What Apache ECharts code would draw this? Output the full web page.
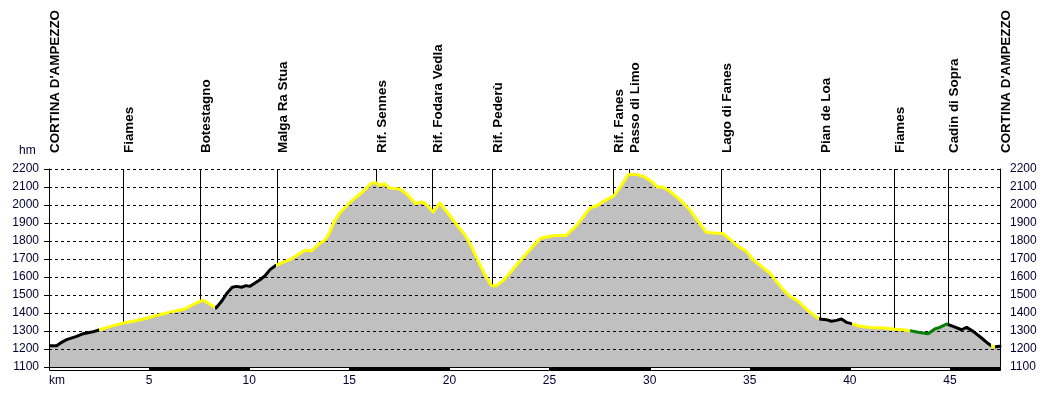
<!DOCTYPE html>
<html><head><meta charset="utf-8">
<script src="https://cdn.jsdelivr.net/npm/echarts@6/dist/echarts.min.js"></script>
<style>html,body{margin:0;padding:0;background:#fff}#c{width:1050px;height:394px}</style>
</head><body><div id="c"></div>
<script>
// ---- DATA ----
const distKm = [0.0,0.38,0.63,0.88,1.38,1.71,2.13,2.54,3.21,3.71,4.21,4.71,5.21,5.71,6.21,6.79,7.12,7.54,7.71,8.01,8.34,8.62,8.87,9.15,9.37,9.62,9.84,10.04,10.29,10.54,10.79,11.04,11.34,11.62,12.03,12.37,12.78,13.12,13.45,13.78,14.03,14.25,14.53,15.0,15.28,15.61,15.86,16.11,16.36,16.53,16.73,17.02,17.52,17.86,18.32,18.56,18.77,19.19,19.52,19.85,20.27,20.77,21.10,21.44,21.77,22.10,22.35,22.69,23.02,23.52,24.02,24.52,24.85,25.27,25.82,26.35,27.02,27.35,27.85,28.18,28.51,28.93,29.35,29.76,30.10,30.38,30.65,31.01,31.48,32.0,32.42,32.83,33.17,33.67,34.00,34.42,34.83,35.17,35.58,36.0,36.33,36.67,37.00,37.42,37.83,38.17,38.47,38.83,39.08,39.33,39.58,39.83,40.08,40.50,41.0,41.66,42.16,42.58,43.0,43.41,43.91,44.24,44.49,44.83,45.16,45.58,45.83,46.16,46.58,46.91,47.16,47.5];
const elevM = [1218,1218,1237,1252,1270,1285,1294,1307,1330,1344,1354,1367,1381,1396,1409,1422,1443,1465,1470,1450,1428,1465,1507,1543,1548,1543,1552,1548,1567,1585,1607,1641,1665,1678,1696,1719,1748,1746,1780,1804,1850,1909,1956,2010,2039,2067,2094,2122,2122,2107,2119,2094,2089,2063,2007,2017,2011,1961,2011,1965,1904,1835,1770,1687,1613,1552,1552,1581,1622,1687,1752,1813,1822,1830,1830,1885,1983,1996,2030,2048,2094,2169,2169,2156,2131,2100,2100,2076,2033,1974,1909,1848,1844,1841,1811,1770,1743,1696,1659,1622,1576,1530,1493,1465,1422,1391,1367,1363,1354,1359,1367,1348,1341,1326,1320,1317,1311,1307,1302,1293,1285,1311,1320,1339,1326,1307,1320,1298,1261,1230,1211,1215];

// trail surface segments: start km and type
const segStartKm = [0, 2.5, 8.3, 11.35, 38.47, 40.1, 43.0, 44.88, 47.05, 47.25];
const segType    = ['black','yellow','black','yellow','black','yellow','green','black','yellow','black'];

const wpNames = ["CORTINA D'AMPEZZO","Fiames","Botestagno","Malga Ra Stua","Rif. Sennes","Rif. Fodara Vedla","Rif. Pederù","Rif. Fanes","Passo di Limo","Lago di Fanes","Pian de Loa","Fiames","Cadin di Sopra","CORTINA D'AMPEZZO"];
const wpKm    = [0, 3.68, 7.55, 11.40, 16.34, 19.14, 22.13, 28.17, 28.96, 33.57, 38.51, 42.2, 44.9, 47.48];

const yMin = 1100, yMax = 2200, yStep = 100;
const xMin = 0, xMax = 47.5, xStep = 5;

// ---- BUILD ----
const colorMap = {black:'#000000', yellow:'#ffff00', green:'#008000'};
const profile = distKm.map((k,i)=>[k, elevM[i]]);
const pieces = segStartKm.map((s,i)=>({gte:s, lt: i<segStartKm.length-1 ? segStartKm[i+1] : 1000, color: colorMap[segType[i]]}));
const bands = [];
for (let k = xMin, j = 0; k < xMax; k += xStep, j++) bands.push([k, Math.min(k + xStep, xMax), j % 2]);
const labelColor = '#000033';
const font = 'Arial, "Liberation Sans", sans-serif';

const chart = echarts.init(document.getElementById('c'), null, {renderer:'canvas'});
chart.setOption({
  animation:false,
  backgroundColor:'#fff',
  grid:{left:49, right:50, top:169, bottom:27},
  xAxis:{type:'value', min:xMin, max:xMax, interval:xStep,
    axisLine:{show:false}, axisTick:{show:false}, splitLine:{show:false},
    axisLabel:{color:labelColor, fontSize:12, fontFamily:font, margin:8, showMaxLabel:false, alignMinLabel:'left',
      formatter:v=> v===0 ? 'km' : String(v)}},
  yAxis:[
    {type:'value', min:yMin, max:yMax, interval:yStep, position:'left', z:3,
      axisLine:{show:true, lineStyle:{color:'#000', width:1}},
      axisTick:{show:true, length:5, lineStyle:{color:'#000'}},
      axisLabel:{color:labelColor, fontSize:12, fontFamily:font, margin:10, formatter:v=>String(v)},
      splitLine:{show:true, lineStyle:{color:'#000', type:[3,3], width:1}}},
    {type:'value', min:yMin, max:yMax, interval:yStep, position:'right', z:3,
      axisLine:{show:true, lineStyle:{color:'#000', width:1}},
      axisTick:{show:false},
      axisLabel:{color:labelColor, fontSize:12, fontFamily:font, margin:10, formatter:v=>String(v)},
      splitLine:{show:false}}
  ],
  visualMap:{type:'piecewise', show:false, dimension:0, seriesIndex:1, pieces:pieces},
  graphic:[{type:'text', left:19, top:145, style:{text:'hm', font:'12px '+font, fill:labelColor}}],
  series:[
    {type:'line', data:profile, showSymbol:false, z:2,
      lineStyle:{width:0, opacity:0}, areaStyle:{color:'#c0c0c0', opacity:1}},
    {type:'line', data:profile, showSymbol:false, z:4,
      lineStyle:{width:3, join:'round', cap:'round'}},
    {type:'custom', z:1, clip:false, data:wpKm.map((k,i)=>[k,i]),
      renderItem:(params, api)=>{
        const k = api.value(0), idx = api.value(1);
        const top = api.coord([k, yMax]);
        const bot = api.coord([k, yMin]);
        const x = Math.round(top[0]) + 0.5;
        return {type:'group', children:[
          {type:'line', shape:{x1:x, y1:top[1], x2:x, y2:bot[1]}, style:{stroke:'#000', lineWidth:1}},
          {type:'text', x:x + 6, y:153, rotation:Math.PI/2,
            style:{text:wpNames[idx], font:'bold 13.4px '+font, fill:'#000', align:'left', verticalAlign:'middle'}}
        ]};
      }},
    {type:'custom', z:5, clip:false, data:bands,
      renderItem:(params, api)=>{
        const a = api.coord([api.value(0), yMin]);
        const b = api.coord([api.value(1), yMin]);
        return {type:'rect', shape:{x:Math.round(a[0])+0.5, y:Math.round(a[1])+0.5, width:Math.round(b[0]-a[0]), height:3},
          style:{fill: api.value(2) ? '#000' : '#fff', stroke:'#000', lineWidth:1}};
      }}
  ]
});
</script></body></html>
